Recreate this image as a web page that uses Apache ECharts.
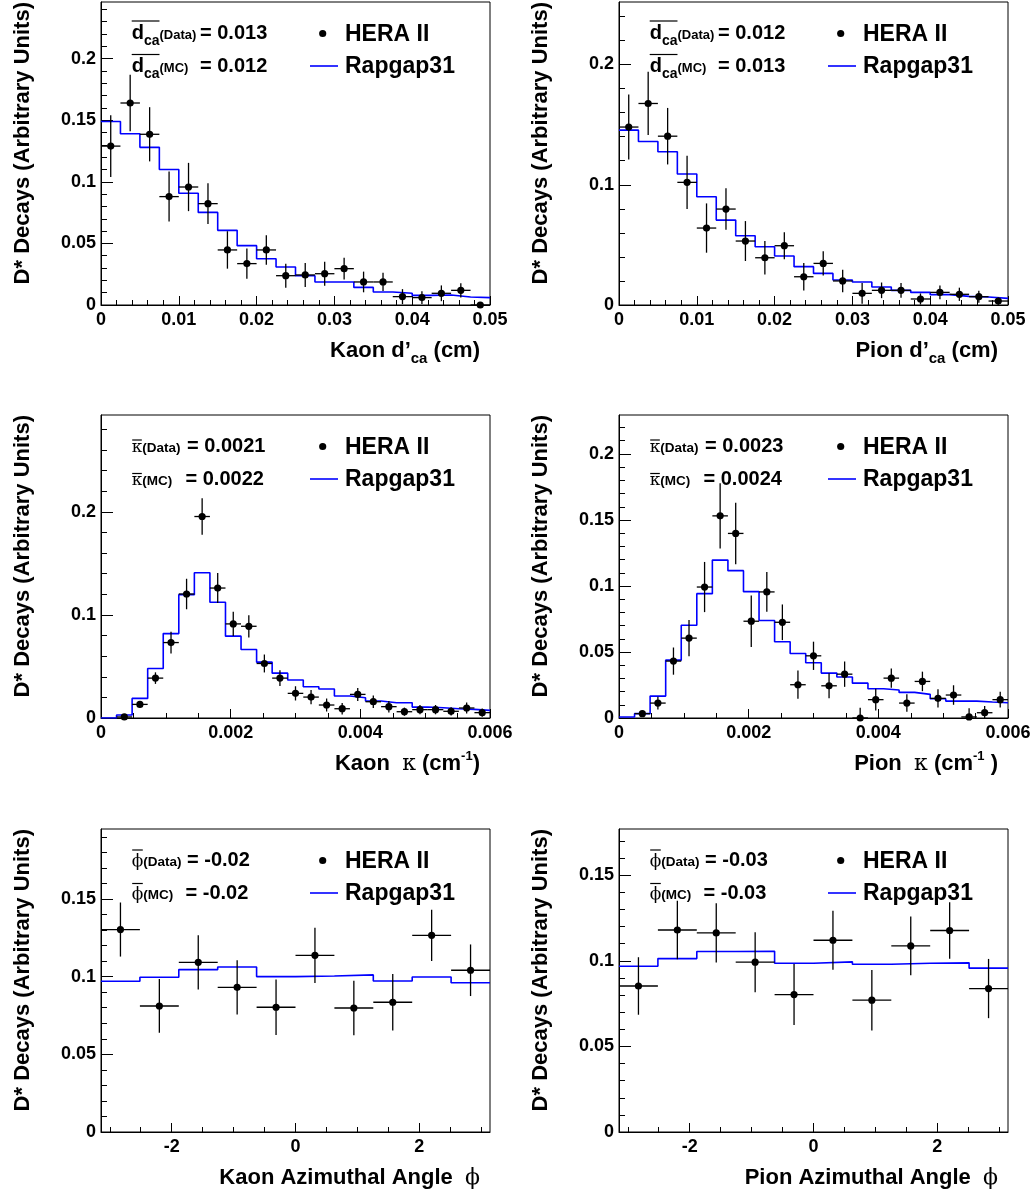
<!DOCTYPE html>
<html>
<head>
<meta charset="utf-8">
<title>D* decay track variables: HERA II vs Rapgap31</title>
<script src="https://cdn.jsdelivr.net/npm/echarts@6/dist/echarts.min.js"></script>
<style>
  html, body { margin: 0; padding: 0; background: #fff; }
  #chart { width: 1035px; height: 1196px; }
</style>
</head>
<body>
<div id="chart"></div>
<script>
// binning of the three variables
const dcaRange = [0, 0.05], dcaBins = 20;
const kappaRange = [0, 0.006], kappaBins = 25;
const phiRange = [-Math.PI, Math.PI], phiBins = 10;

// Kaon d'ca
const kaonDcaData = [0.129, 0.164, 0.1386, 0.088, 0.0958, 0.0823, 0.0447, 0.0336, 0.0447, 0.0238,
  0.0244, 0.0254, 0.0295, 0.0187, 0.0187, 0.0068, 0.006, 0.0095, 0.0119, 0.0];
const kaonDcaErr = [0.025, 0.023, 0.022, 0.0203, 0.0196, 0.0166, 0.0152, 0.0122, 0.012, 0.0097,
  0.0097, 0.0097, 0.0088, 0.0084, 0.0074, 0.0061, 0.0051, 0.0064, 0.0058, 0];
const kaonDcaMC = [0.149, 0.139, 0.128, 0.110, 0.0907, 0.0752, 0.0606, 0.0482, 0.0376, 0.0309,
  0.0238, 0.0187, 0.0187, 0.0143, 0.0106, 0.0095, 0.0078, 0.0081, 0.0065, 0.006];

// Pion d'ca
const pionDcaData = [0.148, 0.1676, 0.1404, 0.102, 0.064, 0.0798, 0.0532, 0.0393, 0.0493, 0.0235,
  0.0346, 0.020, 0.0097, 0.0122, 0.0122, 0.005, 0.0105, 0.0089, 0.0069, 0.0033];
const pionDcaErr = [0.027, 0.0263, 0.0235, 0.0222, 0.0205, 0.0173, 0.0166, 0.0139, 0.0112, 0.0115,
  0.01, 0.0094, 0.0086, 0.0065, 0.0062, 0.0046, 0.0057, 0.0055, 0.005, 0.003];
const pionDcaMC = [0.1454, 0.136, 0.1274, 0.1089, 0.090, 0.0706, 0.0576, 0.0485, 0.0407, 0.0319,
  0.0263, 0.0208, 0.0191, 0.015, 0.0122, 0.0105, 0.0086, 0.0072, 0.0066, 0.0055];

// Kaon kappa (first bin has no data point)
const kaonKappaData = [null, 0.001, 0.0132, 0.0387, 0.0732, 0.1203, 0.1955, 0.1261, 0.0913, 0.089,
  0.0529, 0.0387, 0.0239, 0.0203, 0.0126, 0.009, 0.0229, 0.0158, 0.011, 0.0061,
  0.0081, 0.0081, 0.0065, 0.0097, 0.0052];
const kaonKappaErr = [0, 0.001, 0.0032, 0.0056, 0.0105, 0.0148, 0.0177, 0.0145, 0.0118, 0.0108,
  0.0087, 0.0076, 0.0069, 0.0069, 0.0063, 0.0056, 0.0063, 0.006, 0.0056, 0.004,
  0.0045, 0.0045, 0.004, 0.0053, 0.004];
const kaonKappaMC = [0, 0.0029, 0.019, 0.048, 0.0819, 0.1197, 0.141, 0.1123, 0.0794, 0.0665,
  0.0542, 0.0435, 0.0368, 0.0303, 0.0281, 0.0213, 0.0197, 0.0165, 0.0148, 0.0148,
  0.0106, 0.01, 0.009, 0.0084, 0.0074];

// Pion kappa
const pionKappaData = [null, 0.0033, 0.0113, 0.0431, 0.0605, 0.0992, 0.1531, 0.1398, 0.0733, 0.0955,
  0.0725, 0.0252, 0.0471, 0.0244, 0.0332, 0.0, 0.0139, 0.0302, 0.0113, 0.0277,
  0.0149, 0.0174, 0.0008, 0.004, 0.0139];
const pionKappaErr = [0, 0.002, 0.0048, 0.0103, 0.0137, 0.019, 0.0248, 0.0233, 0.0195, 0.0151,
  0.0135, 0.0107, 0.0107, 0.0095, 0.0096, 0.0078, 0.0082, 0.0072, 0.0066, 0.0074,
  0.0069, 0.0074, 0.0065, 0.005, 0.006];
const pionKappaMC = [0.0008, 0.0033, 0.0166, 0.0438, 0.0703, 0.0942, 0.1196, 0.1116, 0.0957, 0.0738,
  0.0577, 0.0489, 0.0418, 0.034, 0.031, 0.0264, 0.0222, 0.0212, 0.0194, 0.0179,
  0.0146, 0.0128, 0.0128, 0.0121, 0.0116];

// Kaon / Pion azimuthal angle
const kaonPhiData = [0.1303, 0.0811, 0.1092, 0.0931, 0.0803, 0.1137, 0.0798, 0.0835, 0.1266, 0.1041];
const kaonPhiErr = [0.0174, 0.0173, 0.0175, 0.0175, 0.0179, 0.0178, 0.0175, 0.0182, 0.0165, 0.0166];
const kaonPhiMC = [0.097, 0.0996, 0.1045, 0.1062, 0.1, 0.1004, 0.1011, 0.0972, 0.0998, 0.0961];
const pionPhiData = [0.0853, 0.118, 0.1163, 0.0992, 0.0803, 0.112, 0.077, 0.1087, 0.1177, 0.0838];
const pionPhiErr = [0.0168, 0.0171, 0.0173, 0.0175, 0.0178, 0.0172, 0.0177, 0.0172, 0.0165, 0.0173];
const pionPhiMC = [0.0968, 0.1013, 0.1054, 0.1056, 0.0986, 0.0994, 0.098, 0.0986, 0.0988, 0.0957];

// tick labels
const dcaTicks = [0, 0.01, 0.02, 0.03, 0.04, 0.05];
const kappaTicks = [0, 0.002, 0.004, 0.006];
const phiTicks = [-2, 0, 2];
const yTicks05 = [0, 0.05, 0.1, 0.15, 0.2];
const yTicks1 = [0, 0.1, 0.2];
const yTicksPhi = [0, 0.05, 0.1, 0.15];

// mean values quoted in the boxes
const meanKaonDca = ['0.013', '0.012'];
const meanPionDca = ['0.012', '0.013'];
const meanKaonKappa = ['0.0021', '0.0022'];
const meanPionKappa = ['0.0023', '0.0024'];
const meanKaonPhi = ['-0.02', '-0.02'];
const meanPionPhi = ['-0.03', '-0.03'];

const FONT = '"Liberation Sans", Arial, Helvetica, sans-serif';
const SERIF = '"DejaVu Serif", "Liberation Serif", serif';
const bold = (s) => 'bold ' + s + 'px ' + FONT;
const serif = (s) => s + 'px ' + SERIF;

const panels = [
  { L: 101, T: 2, range: dcaRange, bins: dcaBins, data: kaonDcaData, err: kaonDcaErr, mc: kaonDcaMC,
    xTicks: dcaTicks, xMinor: 0.002, yMax: 0.246, yTicks: yTicks05, yMinor: 0.01, sym: 'd', mean: meanKaonDca, who: 'Kaon' },
  { L: 619, T: 2, range: dcaRange, bins: dcaBins, data: pionDcaData, err: pionDcaErr, mc: pionDcaMC,
    xTicks: dcaTicks, xMinor: 0.002, yMax: 0.252, yTicks: yTicks1, yMinor: 0.02, sym: 'd', mean: meanPionDca, who: 'Pion' },
  { L: 101, T: 415, range: kappaRange, bins: kappaBins, data: kaonKappaData, err: kaonKappaErr, mc: kaonKappaMC,
    xTicks: kappaTicks, xMinor: 0.0005, yMax: 0.294, yTicks: yTicks1, yMinor: 0.02, sym: 'k', mean: meanKaonKappa, who: 'Kaon' },
  { L: 619, T: 415, range: kappaRange, bins: kappaBins, data: pionKappaData, err: pionKappaErr, mc: pionKappaMC,
    xTicks: kappaTicks, xMinor: 0.0005, yMax: 0.2295, yTicks: yTicks05, yMinor: 0.01, sym: 'k', mean: meanPionKappa, who: 'Pion' },
  { L: 101, T: 829, range: phiRange, bins: phiBins, data: kaonPhiData, err: kaonPhiErr, mc: kaonPhiMC,
    xTicks: phiTicks, xMinor: 0.5, yMax: 0.195, yTicks: yTicksPhi, yMinor: 0.01, sym: 'p', mean: meanKaonPhi, who: 'Kaon' },
  { L: 619, T: 829, range: phiRange, bins: phiBins, data: pionPhiData, err: pionPhiErr, mc: pionPhiMC,
    xTicks: phiTicks, xMinor: 0.5, yMax: 0.177, yTicks: yTicksPhi, yMinor: 0.01, sym: 'p', mean: meanPionPhi, who: 'Pion' }
];
const W = 389, H = 303;

// text measuring, so pieces of a formula can be laid out next to each other
const meas = document.createElement('canvas').getContext('2d');
function textW(str, font) { meas.font = font; return meas.measureText(str).width; }
function ascent(str, font) { meas.font = font; return meas.measureText(str).actualBoundingBoxAscent; }
function midOff(font) {
  meas.font = font;
  meas.textBaseline = 'middle';
  const d = meas.measureText('H').actualBoundingBoxDescent;
  meas.textBaseline = 'alphabetic';
  return d;
}
function textEl(str, font, x, baseline) {
  return { type: 'text', x: x, y: baseline - midOff(font), silent: true,
    style: { text: str, font: font, fill: '#000', align: 'left', verticalAlign: 'middle' } };
}
// list of {t, f, dy}; returns elements and the x of each piece
function pieces(list, x, baseline, align) {
  const ws = list.map(p => textW(p.t, p.f));
  let cx = align === 'right' ? x - ws.reduce((a, b) => a + b, 0) : x;
  const out = [], xs = [];
  list.forEach((p, i) => {
    xs.push(cx);
    out.push(textEl(p.t, p.f, cx, baseline + (p.dy || 0)));
    cx += ws[i];
  });
  return { els: out, xs: xs, ws: ws };
}
function overline(x1, x2, y) {
  return { type: 'line', silent: true, shape: { x1: x1, y1: y, x2: x2, y2: y },
    style: { stroke: '#000', lineWidth: 1.2 } };
}
function ticksBetween(min, max, step) {
  const out = [];
  for (let k = Math.ceil(min / step - 1e-9); k <= Math.floor(max / step + 1e-9); k++) out.push(k * step);
  return out;
}

function errRender(params, api) {
  const xc = api.value(0), y = api.value(1), hw = api.value(2), e = api.value(3);
  const pL = api.coord([xc - hw, y]), pR = api.coord([xc + hw, y]);
  const pT = api.coord([xc, y + e]), pB = api.coord([xc, Math.max(y - e, 0)]);
  const pC = api.coord([xc, y]);
  const st = { stroke: '#000', lineWidth: 1.3 };
  return { type: 'group', children: [
    { type: 'line', shape: { x1: pL[0], y1: pL[1], x2: pR[0], y2: pR[1] }, style: st },
    { type: 'line', shape: { x1: pT[0], y1: pT[1], x2: pB[0], y2: pB[1] }, style: st },
    { type: 'circle', shape: { cx: pC[0], cy: pC[1], r: 3.6 }, style: { fill: '#000' } }
  ] };
}

const grids = [], xAxes = [], yAxes = [], series = [], graphics = [];
const labelStyle = { color: '#000', fontFamily: FONT, fontWeight: 'bold', fontSize: 18 };

panels.forEach((p, i) => {
  const L = p.L, T = p.T, B = T + H;
  const bw = (p.range[1] - p.range[0]) / p.bins;
  grids.push({ left: L, top: T, width: W, height: H, show: true, borderColor: '#000', borderWidth: 1,
    containLabel: false, outerBoundsMode: 'none' });

  xAxes.push({ gridIndex: i, type: 'value', position: 'bottom', min: p.range[0], max: p.range[1],
    axisLine: { show: true, onZero: false, lineStyle: { color: '#000', width: 1 } },
    axisTick: { show: true, inside: true, length: 9, lineStyle: { color: '#000', width: 1 }, customValues: p.xTicks },
    axisLabel: Object.assign({ show: true, margin: 6, customValues: p.xTicks }, labelStyle),
    splitLine: { show: false } });
  xAxes.push({ gridIndex: i, type: 'value', position: 'bottom', min: p.range[0], max: p.range[1],
    axisLine: { show: false, onZero: false },
    axisTick: { show: true, inside: true, length: 5, lineStyle: { color: '#000', width: 1 },
      customValues: ticksBetween(p.range[0], p.range[1], p.xMinor) },
    axisLabel: { show: false }, splitLine: { show: false } });

  yAxes.push({ gridIndex: i, type: 'value', position: 'left', min: 0, max: p.yMax,
    axisLine: { show: true, onZero: false, lineStyle: { color: '#000', width: 1 } },
    axisTick: { show: true, inside: true, length: 12, lineStyle: { color: '#000', width: 1 }, customValues: p.yTicks },
    axisLabel: Object.assign({ show: true, margin: 5, customValues: p.yTicks }, labelStyle),
    splitLine: { show: false } });
  yAxes.push({ gridIndex: i, type: 'value', position: 'left', min: 0, max: p.yMax,
    axisLine: { show: false, onZero: false },
    axisTick: { show: true, inside: true, length: 6, lineStyle: { color: '#000', width: 1 },
      customValues: ticksBetween(0, p.yMax, p.yMinor) },
    axisLabel: { show: false }, splitLine: { show: false } });

  // MC histogram as a step outline over the bin edges
  const step = p.mc.map((v, k) => [p.range[0] + k * bw, v]);
  step.push([p.range[1], p.mc[p.mc.length - 1]]);
  series.push({ type: 'line', name: 'Rapgap31', xAxisIndex: 2 * i, yAxisIndex: 2 * i, step: 'end',
    symbol: 'none', data: step, lineStyle: { color: '#0000ff', width: 1.6 }, z: 2, silent: true });

  const pts = [];
  p.data.forEach((v, k) => {
    if (v === null) return;
    pts.push([p.range[0] + (k + 0.5) * bw, v, bw / 2, p.err[k]]);
  });
  series.push({ type: 'custom', name: 'HERA II', xAxisIndex: 2 * i, yAxisIndex: 2 * i,
    data: pts, renderItem: errRender, clip: false, z: 3, silent: true });

  // y axis title
  const yf = bold(22);
  graphics.push({ type: 'text', x: L - 72.5 - midOff(yf), y: T, rotation: Math.PI / 2, silent: true,
    style: { text: 'D* Decays (Arbitrary Units)', font: yf, fill: '#000', align: 'right', verticalAlign: 'middle' } });

  // x axis title
  let xt;
  if (p.sym === 'd') {
    xt = [{ t: p.who + ' d\u2019', f: bold(22) }, { t: 'ca', f: bold(15), dy: 6 }, { t: ' (cm)', f: bold(22) }];
  } else if (p.sym === 'k') {
    xt = [{ t: p.who + '  ', f: bold(22) }, { t: '\u03ba', f: serif(22) }, { t: ' (cm', f: bold(22) },
      { t: '-1', f: bold(13), dy: -10 }, { t: p.who === 'Pion' ? ' )' : ')', f: bold(22) }];
  } else {
    xt = [{ t: p.who + ' Azimuthal Angle  ', f: bold(22) }, { t: '\u03d5', f: serif(22) }];
  }
  graphics.push(...pieces(xt, L + 379, B + 52, 'right').els);

  // mean values
  const lines = [['(Data)', p.mean[0]], ['(MC)', p.mean[1]]];
  lines.forEach((ln, j) => {
    const base = T + (j === 0 ? 36.5 : 70);
    let r;
    if (p.sym === 'd') {
      r = pieces([{ t: 'd', f: bold(20) }, { t: 'ca', f: bold(14), dy: 6 }, { t: ln[0], f: bold(13) }], L + 30.7, base);
      const yo = base - ascent('d', bold(20)) - 2.5;
      graphics.push(overline(r.xs[0], r.xs[1] + r.ws[1], yo));
      graphics.push(textEl('= ' + ln[1], bold(20), L + 99, base));
    } else {
      const ch = p.sym === 'k' ? '\u03ba' : '\u03d5';
      r = pieces([{ t: ch, f: serif(17) }, { t: ln[0], f: bold(13.5) }], L + 30.7, base);
      const yo = base - ascent(ch, serif(17)) - 2.5;
      graphics.push(overline(r.xs[0] + 0.5, r.xs[0] + r.ws[0] - 0.5, yo));
      graphics.push(textEl('= ' + ln[1], bold(20), L + (j === 0 ? 86 : 84.5), base));
    }
    graphics.push(...r.els);
  });

  // legend
  graphics.push({ type: 'circle', silent: true, shape: { cx: L + 221.7, cy: T + 31.5, r: 3.6 }, style: { fill: '#000' } });
  graphics.push(textEl('HERA II', bold(23), L + 244, T + 39));
  graphics.push({ type: 'line', silent: true, shape: { x1: L + 209, y1: T + 64, x2: L + 237, y2: T + 64 },
    style: { stroke: '#0000ff', lineWidth: 1.6 } });
  graphics.push(textEl('Rapgap31', bold(23), L + 244, T + 71));
});

const chart = echarts.init(document.getElementById('chart'));
chart.setOption({
  animation: false,
  backgroundColor: '#fff',
  grid: grids,
  xAxis: xAxes,
  yAxis: yAxes,
  series: series,
  graphic: { elements: graphics }
});
</script>
</body>
</html>
